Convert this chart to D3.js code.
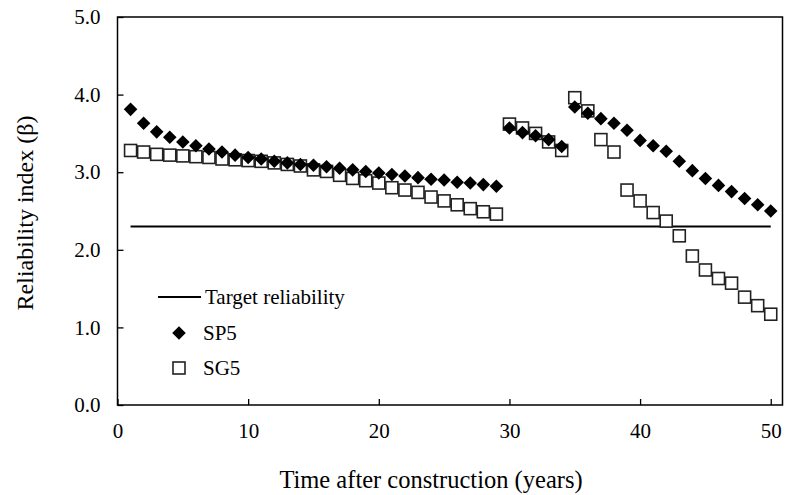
<!DOCTYPE html>
<html>
<head>
<meta charset="utf-8">
<script src="https://cdn.jsdelivr.net/npm/d3@7"></script>
<style>
  html, body { margin: 0; padding: 0; background: #fff; }
  svg text { font-family: "Liberation Serif", "Times New Roman", serif; fill: #000; }
</style>
</head>
<body>
<div id="chart"></div>
<script>
// Time after construction (years)
const years = d3.range(1, 51);

// Reliability index for section SP5
const sp5 = [
  3.81, 3.63, 3.52, 3.45, 3.39, 3.34, 3.30, 3.26, 3.22, 3.19,
  3.17, 3.14, 3.12, 3.10, 3.09, 3.07, 3.05, 3.03, 3.01, 2.99,
  2.97, 2.95, 2.93, 2.91, 2.90, 2.87, 2.86, 2.84, 2.82, 3.57,
  3.51, 3.47, 3.42, 3.33, 3.84, 3.76, 3.69, 3.63, 3.54, 3.41,
  3.34, 3.27, 3.14, 3.02, 2.92, 2.83, 2.75, 2.66, 2.58, 2.50
];

// Reliability index for section SG5
const sg5 = [
  3.28, 3.26, 3.23, 3.22, 3.21, 3.20, 3.19, 3.17, 3.16, 3.15,
  3.14, 3.12, 3.10, 3.08, 3.03, 3.01, 2.96, 2.92, 2.89, 2.86,
  2.80, 2.77, 2.74, 2.68, 2.63, 2.58, 2.53, 2.49, 2.46, 3.62,
  3.57, 3.50, 3.39, 3.28, 3.96, 3.79, 3.42, 3.26, 2.77, 2.63,
  2.48, 2.37, 2.18, 1.92, 1.74, 1.63, 1.57, 1.39, 1.28, 1.17
];

// Target reliability level and the period it spans
const target = 2.3;
const targetSpan = [1, 50];

const xTicks = [0, 10, 20, 30, 40, 50];
const yTicks = [0, 1, 2, 3, 4, 5];

const width = 786, height = 495;
const plot = { left: 117.5, right: 782.5, top: 17, bottom: 405 };

const svg = d3.select("#chart").append("svg")
  .attr("width", width).attr("height", height);

const x = d3.scaleLinear().domain([0, 50.9]).range([plot.left, plot.right]);
const y = d3.scaleLinear().domain([0, 5]).range([plot.bottom, plot.top]);

// Axes with inward ticks
const xAxis = svg.append("g")
  .attr("transform", `translate(0,${plot.bottom})`)
  .call(d3.axisBottom(x).tickValues(xTicks).tickSizeInner(-6).tickSizeOuter(0)
    .tickFormat(d3.format("d")));
xAxis.select(".domain").remove();
xAxis.selectAll(".tick line").attr("stroke", "#000").attr("stroke-width", 1.3);
xAxis.selectAll(".tick text")
  .attr("y", 18).attr("dy", "0.71em")
  .style("font-size", "21px");

const yAxis = svg.append("g")
  .attr("transform", `translate(${plot.left},0)`)
  .call(d3.axisLeft(y).tickValues(yTicks).tickSizeInner(-6).tickSizeOuter(0)
    .tickFormat(d3.format(".1f")));
yAxis.select(".domain").remove();
yAxis.selectAll(".tick line").attr("stroke", "#000").attr("stroke-width", 1.3);
yAxis.selectAll(".tick text")
  .attr("x", -17)
  .style("font-size", "21px");

// Plot frame
svg.append("rect")
  .attr("x", plot.left).attr("y", plot.top)
  .attr("width", plot.right - plot.left).attr("height", plot.bottom - plot.top)
  .attr("fill", "none").attr("stroke", "#000").attr("stroke-width", 1.5);

// Target reliability line
svg.append("line")
  .attr("x1", x(targetSpan[0])).attr("x2", x(targetSpan[1]))
  .attr("y1", y(target)).attr("y2", y(target))
  .attr("stroke", "#000").attr("stroke-width", 1.8);

const diamond = d3.symbol().type(d3.symbolSquare).size(92);

// SG5 open squares
svg.append("g").selectAll("rect")
  .data(years.map((t, i) => ({ t, v: sg5[i] })))
  .join("rect")
  .attr("x", d => x(d.t) - 6).attr("y", d => y(d.v) - 6)
  .attr("width", 12).attr("height", 12)
  .attr("fill", "#fff").attr("stroke", "#222").attr("stroke-width", 1.6);

// SP5 filled diamonds
svg.append("g").selectAll("path")
  .data(years.map((t, i) => ({ t, v: sp5[i] })))
  .join("path")
  .attr("d", diamond)
  .attr("transform", d => `translate(${x(d.t)},${y(d.v)}) rotate(45)`)
  .attr("fill", "#000");

// Legend
const lg = svg.append("g");
lg.append("line").attr("x1", 158).attr("x2", 201).attr("y1", 297).attr("y2", 297)
  .attr("stroke", "#000").attr("stroke-width", 1.8);
lg.append("text").attr("x", 205).attr("y", 304).text("Target reliability")
  .style("font-size", "21px");
lg.append("path").attr("d", diamond)
  .attr("transform", "translate(179,333) rotate(45)").attr("fill", "#000");
lg.append("text").attr("x", 203).attr("y", 340).text("SP5").style("font-size", "21px");
lg.append("rect").attr("x", 173).attr("y", 362).attr("width", 12).attr("height", 12)
  .attr("fill", "#fff").attr("stroke", "#222").attr("stroke-width", 1.6);
lg.append("text").attr("x", 203).attr("y", 375).text("SG5").style("font-size", "21px");

// Axis titles
svg.append("text")
  .attr("x", 431).attr("y", 488)
  .attr("text-anchor", "middle")
  .style("font-size", "24.5px")
  .text("Time after construction (years)");

svg.append("text")
  .attr("transform", `translate(33,${(plot.top + plot.bottom) / 2 + 2}) rotate(-90)`)
  .attr("text-anchor", "middle")
  .style("font-size", "24px")
  .text("Reliability index (β)");
</script>
</body>
</html>
